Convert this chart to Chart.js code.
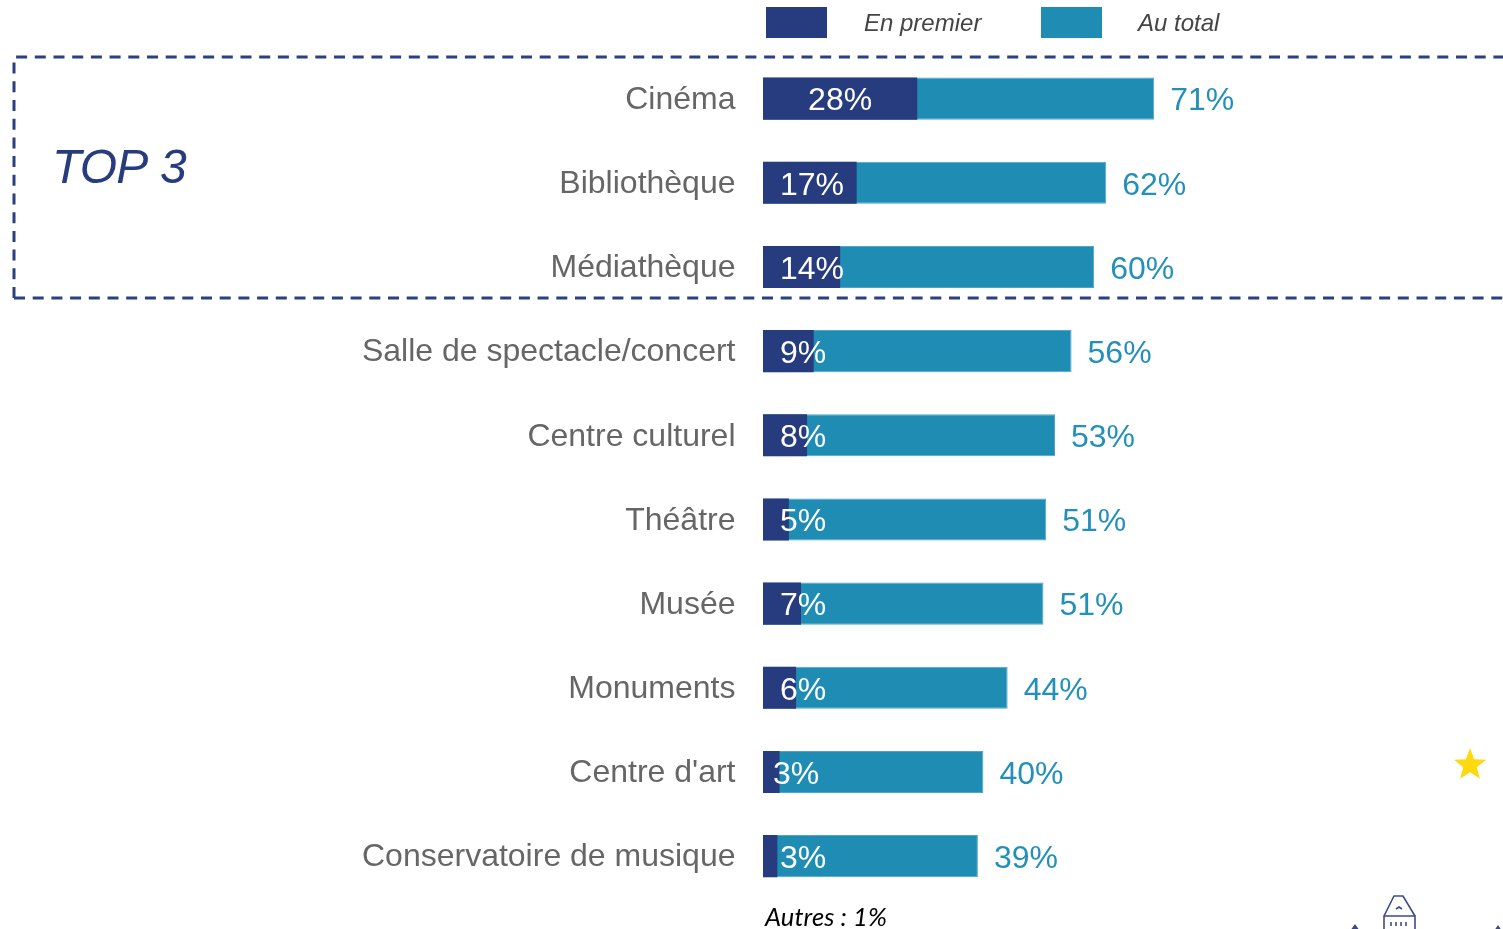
<!DOCTYPE html>
<html>
<head>
<meta charset="utf-8">
<script src="https://cdn.jsdelivr.net/npm/chart.js@4"></script>
<style>
  html, body { margin: 0; padding: 0; background: #fff; overflow: hidden; }
  #wrap { width: 1503px; height: 929px; }
</style>
</head>
<body>
<div id="wrap"><canvas id="chart" width="1503" height="929"></canvas></div>
<script>
const categories = ['Cinéma', 'Bibliothèque', 'Médiathèque', 'Salle de spectacle/concert', 'Centre culturel', 'Théâtre', 'Musée', 'Monuments', "Centre d'art", 'Conservatoire de musique'];
const seriesNames = ['En premier', 'Au total'];
const enPremier = [28, 17, 14, 9.2, 8, 4.7, 6.9, 6, 3, 2.6];
const auTotal = [71, 62.3, 60.1, 56, 53, 51.4, 50.9, 44.4, 40, 39];
const enPremierLabels = ['28%', '17%', '14%', '9%', '8%', '5%', '7%', '6%', '3%', '3%'];
const auTotalLabels = ['71%', '62%', '60%', '56%', '53%', '51%', '51%', '44%', '40%', '39%'];
const noteText = 'Autres : 1%';
const boxTitle = 'TOP 3';

const NAVY = '#263c7e';
const TEAL = '#1f8cb4';
const FONT = '"Liberation Sans", Arial, sans-serif';

// everything around the bars: value labels, legend, dashed box, decorations
const extras = {
  id: 'extras',
  afterDatasetsDraw(chart) {
    const ctx = chart.ctx;
    const x = chart.scales.x;
    const y = chart.scales.y;
    ctx.save();
    ctx.textBaseline = 'middle';
    ctx.font = '32px ' + FONT;

    categories.forEach(function (c, i) {
      const yy = y.getPixelForValue(i) + 3;
      ctx.textAlign = 'left';
      ctx.fillStyle = '#2490b9';
      ctx.fillText(auTotalLabels[i], x.getPixelForValue(auTotal[i]) + 16, yy);

      // inner label is centred, but never starts left of 780
      const w = ctx.measureText(enPremierLabels[i]).width;
      let left = Math.max(780, (x.getPixelForValue(0) + x.getPixelForValue(enPremier[i])) / 2 - w / 2);
      if (i === 8) left = 773;
      ctx.fillStyle = '#ffffff';
      ctx.fillText(enPremierLabels[i], left, yy);
    });

    // legend
    ctx.fillStyle = NAVY;
    ctx.fillRect(766, 7, 61, 31);
    ctx.fillStyle = TEAL;
    ctx.fillRect(1041, 7, 61, 31);
    ctx.font = 'italic 24px ' + FONT;
    ctx.fillStyle = '#444444';
    ctx.textAlign = 'left';
    ctx.fillText(seriesNames[0], 864, 24);
    ctx.fillText(seriesNames[1], 1138, 24);

    // dashed top 3 box, open on the right
    ctx.strokeStyle = '#2a4080';
    ctx.lineWidth = 3;
    ctx.setLineDash([11, 7.7]);
    ctx.beginPath();
    ctx.moveTo(14, 298);
    ctx.lineTo(14, 57);
    ctx.lineTo(1503, 57);
    ctx.stroke();
    ctx.beginPath();
    ctx.moveTo(14, 298);
    ctx.lineTo(1503, 298);
    ctx.stroke();
    ctx.setLineDash([]);

    ctx.font = 'italic 48px ' + FONT;
    ctx.letterSpacing = '-0.8px';
    ctx.fillStyle = NAVY;
    ctx.fillText(boxTitle, 52, 170);
    ctx.letterSpacing = '0px';

    ctx.font = 'italic 25.5px Lato, sans-serif';
    ctx.letterSpacing = '0.1px';
    ctx.fillStyle = '#000000';
    ctx.fillText(noteText, 765, 918);
    ctx.letterSpacing = '0px';

    drawStar(ctx, 1470, 765, 17);
    drawCastle(ctx);
    ctx.restore();
  }
};

function drawStar(ctx, cx, cy, r) {
  ctx.fillStyle = '#ffd90f';
  ctx.beginPath();
  for (let k = 0; k < 10; k++) {
    const rad = k % 2 === 0 ? r : r * 0.42;
    const a = -Math.PI / 2 + k * Math.PI / 5;
    ctx.lineTo(cx + rad * Math.cos(a), cy + rad * Math.sin(a));
  }
  ctx.closePath();
  ctx.fill();
}

// the logo cut off at the bottom of the picture
function drawCastle(ctx) {
  ctx.strokeStyle = '#3d4a8a';
  ctx.lineWidth = 1.6;
  ctx.beginPath();
  ctx.moveTo(1384, 931);
  ctx.lineTo(1384, 916);
  ctx.lineTo(1415, 916);
  ctx.lineTo(1415, 931);
  ctx.moveTo(1384, 916);
  ctx.lineTo(1394, 896);
  ctx.lineTo(1403, 896);
  ctx.lineTo(1415, 916);
  ctx.moveTo(1396, 909);
  ctx.lineTo(1399, 907);
  ctx.lineTo(1402, 909);
  [1391, 1396, 1401, 1406].forEach(function (tx) {
    ctx.moveTo(tx, 922);
    ctx.lineTo(tx, 926);
  });
  ctx.stroke();
  ctx.fillStyle = '#3d4a8a';
  ctx.beginPath();
  ctx.moveTo(1355, 924);
  ctx.lineTo(1360, 931);
  ctx.lineTo(1350, 931);
  ctx.closePath();
  ctx.moveTo(1498, 925);
  ctx.lineTo(1502, 931);
  ctx.lineTo(1494, 931);
  ctx.closePath();
  ctx.fill();
}

new Chart(document.getElementById('chart'), {
  type: 'bar',
  data: {
    labels: categories,
    datasets: [
      { label: seriesNames[0], data: enPremier, backgroundColor: NAVY, grouped: false },
      { label: seriesNames[1], data: auTotal, backgroundColor: TEAL, borderColor: '#4ea5c7', borderWidth: 1, grouped: false }
    ]
  },
  options: {
    indexAxis: 'y',
    responsive: false,
    animation: false,
    categoryPercentage: 0.5,
    barPercentage: 1,
    layout: { padding: { top: 56.5, bottom: 30.8, left: 0, right: 189 } },
    plugins: { legend: { display: false }, tooltip: { enabled: false }, title: { display: false } },
    scales: {
      x: { display: false, min: 0, max: 100 },
      y: {
        // fixed width; the scale otherwise reserves extra room top and bottom
        afterFit(scale) {
          scale.width = 763;
          scale.paddingTop = 0;
          scale.paddingBottom = 0;
        },
        grid: { display: false, drawTicks: false },
        border: { display: false },
        ticks: { autoSkip: false, padding: 27.5, labelOffset: 1.5, color: '#666666', font: { family: FONT, size: 32 } }
      }
    }
  },
  plugins: [extras]
});
</script>
</body>
</html>
